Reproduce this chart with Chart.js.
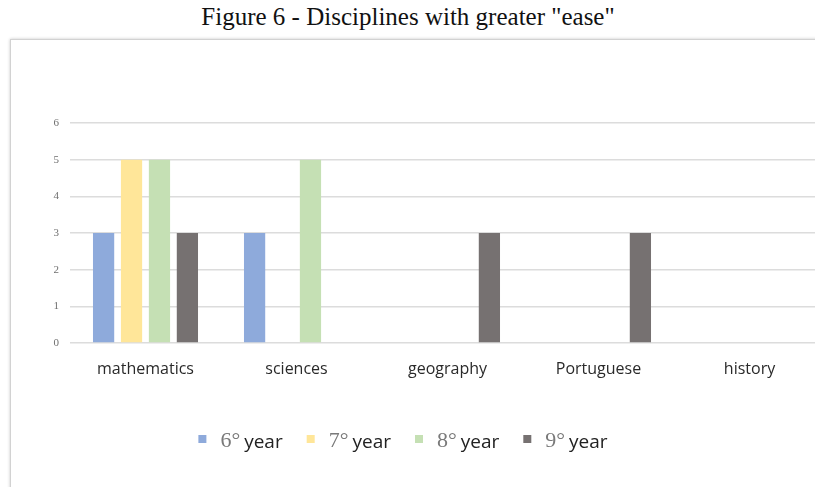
<!DOCTYPE html>
<html>
<head>
<meta charset="utf-8">
<script src="https://cdn.jsdelivr.net/npm/chart.js@4/dist/chart.umd.min.js"></script>
<style>
  html, body { margin: 0; padding: 0; background: #fff; }
  body { width: 815px; height: 487px; overflow: hidden; position: relative; }
  h1 {
    position: absolute; left: 0; top: 3px; width: 816px; margin: 0;
    text-align: center; font: normal 25px "Liberation Serif", "Times New Roman", serif;
    color: #111;
  }
  .card {
    position: absolute; left: 10px; top: 39px; width: 860px; height: 480px;
    border: 1px solid #d2d2d2; box-shadow: 0 0 3px rgba(0,0,0,0.22); background: #fff;
  }
  .plot { position: absolute; left: 0; top: 0; width: 814px; height: 447px; }
</style>
</head>
<body>
<h1>Figure 6 - Disciplines with greater "ease"</h1>
<div class="card"><div class="plot"><canvas id="c"></canvas></div></div>
<script>
// Subjects on the x axis
const categories = ['mathematics', 'sciences', 'geography', 'Portuguese', 'history'];
// School years shown in the legend
const seriesNames = ['6° year', '7° year', '8° year', '9° year'];
// Number of answers per subject, one array per school year
const year6 = [3, 3, 0, 0, 0];
const year7 = [5, 0, 0, 0, 0];
const year8 = [5, 5, 0, 0, 0];
const year9 = [3, 0, 3, 3, 0];
// Value axis
const yMin = 0;
const yMax = 6;
const yStep = 1;

const colors = ['#8eaadb', '#ffe699', '#c5e0b4', '#767171'];
const values = [year6, year7, year8, year9];

// Legend with the ordinal in a serif face and the word in a sans face
const splitLegend = {
  id: 'splitLegend',
  afterDraw(chart) {
    const ctx = chart.ctx;
    const numFont = '22px "Liberation Serif", serif';
    const wordFont = '19px "Open Sans", sans-serif';
    const box = 8, gapBox = 14, gapWord = 4, gapItem = 24;
    const items = chart.data.datasets.map(ds => {
      const parts = ds.label.split(' ');
      ctx.font = numFont; const wNum = ctx.measureText(parts[0]).width;
      ctx.font = wordFont; const wWord = ctx.measureText(parts[1]).width;
      return { num: parts[0], word: parts[1], color: ds.backgroundColor, wNum, wWord,
               w: box + gapBox + wNum + gapWord + wWord };
    });
    const total = items.reduce((s, it) => s + it.w, 0) + gapItem * (items.length - 1);
    let x = 392 - total / 2;
    const yMid = 400;
    ctx.save();
    ctx.textBaseline = 'alphabetic';
    items.forEach(it => {
      ctx.fillStyle = it.color;
      ctx.fillRect(x, yMid - box / 2 - 1, box, box);
      x += box + gapBox;
      ctx.font = numFont; ctx.fillStyle = '#7a7a7a';
      ctx.fillText(it.num, x, yMid + 7);
      x += it.wNum + gapWord;
      ctx.font = wordFont; ctx.fillStyle = '#222';
      ctx.fillText(it.word, x, yMid + 8);
      x += it.wWord + gapItem;
    });
    ctx.restore();
  }
};

new Chart(document.getElementById('c'), {
  type: 'bar',
  data: {
    labels: categories,
    datasets: seriesNames.map((name, i) => ({
      label: name,
      data: values[i],
      backgroundColor: colors[i],
      borderWidth: 0,
      categoryPercentage: 0.74,
      barPercentage: 0.76
    }))
  },
  options: {
    responsive: true,
    maintainAspectRatio: false,
    animation: false,
    layout: { padding: { top: 83, left: 0, right: 0, bottom: 0 } },
    plugins: { legend: { display: false }, tooltip: { enabled: false }, title: { display: false } },
    scales: {
      x: {
        grid: { display: false },
        border: { display: false },
        ticks: { color: '#2a2a2a', font: { family: '"Open Sans", sans-serif', size: 16 }, padding: 9 },
        afterFit(scale) { scale.height = 144; }
      },
      y: {
        min: yMin, max: yMax,
        grid: { color: '#dcdcdc', lineWidth: 1.5, drawTicks: false },
        border: { display: false },
        ticks: { stepSize: yStep, color: '#6f6f6f', font: { family: '"Liberation Serif", serif', size: 11 }, padding: 11 },
        afterFit(scale) { scale.width = 59; }
      }
    }
  },
  plugins: [splitLegend]
});
</script>
</body>
</html>
